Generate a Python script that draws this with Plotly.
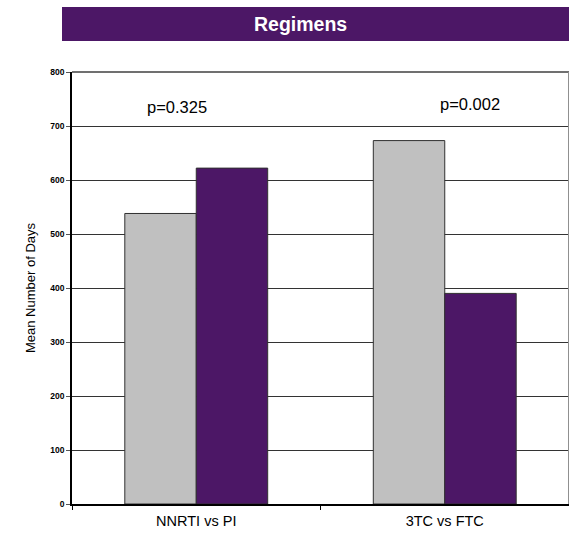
import plotly.graph_objects as go

categories = ["NNRTI vs PI", "3TC vs FTC"]
first_regimen = [538, 673]    # grey bars (NNRTI / 3TC)
second_regimen = [622, 390]   # purple bars (PI / FTC)
p_values = ["p=0.325", "p=0.002"]
y_ticks = [0, 100, 200, 300, 400, 500, 600, 700, 800]

FONT = "Liberation Sans, Arial, sans-serif"
GREY = "#C0C0C0"
PURPLE = "#4C1766"

fig = go.Figure()
fig.add_trace(go.Bar(x=categories, y=first_regimen, marker=dict(color=GREY, line=dict(color="#303030", width=1)),
                     showlegend=False, hoverinfo="x+y"))
fig.add_trace(go.Bar(x=categories, y=second_regimen, marker=dict(color=PURPLE, line=dict(color="#303030", width=1)),
                     showlegend=False, hoverinfo="x+y"))

fig.update_layout(
    width=569, height=533,
    margin=dict(l=72, r=0, t=72, b=29, autoexpand=False),
    paper_bgcolor="white", plot_bgcolor="white",
    barmode="group", bargap=0.425, bargroupgap=0,
    font=dict(family=FONT, color="black"),
    xaxis=dict(
        type="category", tickson="boundaries", ticks="outside", ticklen=4, tickcolor="black",
        showline=True, linecolor="black", linewidth=1.5, showgrid=False,
        tickfont=dict(size=14.5, family=FONT), zeroline=False, ticklabelstandoff=3,
    ),
    yaxis=dict(
        range=[0, 800], tickvals=y_ticks, ticks="outside", ticklen=4, tickcolor="#555555",
        showline=True, linecolor="black", linewidth=1.5,
        showgrid=True, gridcolor="#333333", gridwidth=1, zeroline=False,
        tickfont=dict(size=8.5, family=FONT, weight="bold"),
        title=dict(text="Mean Number of Days", font=dict(size=13, family=FONT), standoff=12),
    ),
)

# p-value annotations
for cat, txt, shift, yv in zip(categories, p_values, [-19, 25], [736, 741]):
    fig.add_annotation(x=cat, y=yv, xref="x", yref="y", text=txt, showarrow=False,
                       xshift=shift, font=dict(size=16.5, family=FONT, color="black"))

# top and right frame
fig.add_shape(type="line", xref="paper", yref="paper", x0=0, x1=1, y0=1, y1=1,
              line=dict(color="#707070", width=2))
fig.add_shape(type="line", xref="paper", yref="paper", x0=0.999, x1=0.999, y0=0, y1=1,
              line=dict(color="#909090", width=1))

# title banner
fig.add_shape(type="rect", xref="paper", yref="paper",
              x0=(62 - 72) / 497, x1=1.01, y0=(504 - 41) / 432, y1=(504 - 7) / 432,
              fillcolor=PURPLE, line=dict(width=0), layer="above")
fig.add_annotation(xref="paper", yref="paper", x=(300 - 72) / 497, y=(504 - 24) / 432,
                   text="<b>Regimens</b>", showarrow=False, yanchor="middle",
                   font=dict(size=19.5, family=FONT, color="white"))

fig.write_html("out.html", config={"displayModeBar": False},
               post_script="document.body.style.margin='0';document.body.style.overflow='hidden';")
